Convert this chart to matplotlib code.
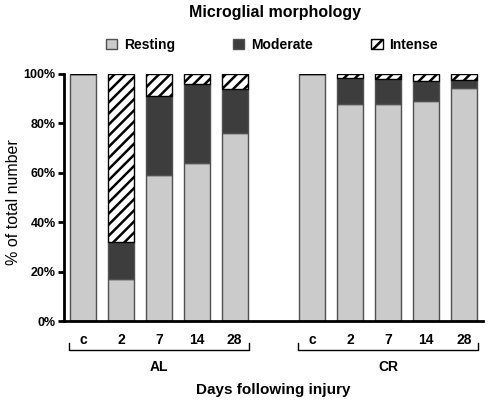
import numpy as np
import matplotlib
matplotlib.use("Agg")
import matplotlib.pyplot as plt
import matplotlib.transforms as mtransforms

plt.rcParams['font.family'] = ['Liberation Sans', 'DejaVu Sans']
plt.rcParams['hatch.linewidth'] = 1.8

# data (percent of total number)
groups = ["AL", "CR"]
days = ["c", "2", "7", "14", "28"]
resting_al = [100, 17, 59, 64, 76]
moderate_al = [0, 15, 32, 32, 18]
intense_al = [0, 68, 9, 4, 6]
resting_cr = [100, 88, 88, 89, 94.5]
moderate_cr = [0, 10.5, 10, 8, 3]
intense_cr = [0, 1.5, 2, 3, 2.5]

resting = np.array(resting_al + resting_cr)
moderate = np.array(moderate_al + moderate_cr)
intense = np.array(intense_al + intense_cr)
x = np.array([0, 1, 2, 3, 4, 6.05, 7.05, 8.05, 9.05, 10.05])
labels = days + days

fig = plt.figure(figsize=(4.89, 4.03), dpi=100)
ax = fig.add_axes([64/489, 1 - 321/403, 419/489, 247/403])

w = 0.69
ec = "#505050"
b1 = ax.bar(x, resting, w, color="#cbcbcb", edgecolor=ec, linewidth=1, label="Resting")
b2 = ax.bar(x, moderate, w, bottom=resting, color="#3d3d3d", edgecolor=ec, linewidth=1, label="Moderate")
b3 = ax.bar(x, intense, w, bottom=resting + moderate, color="white", edgecolor="black",
            hatch="///", linewidth=1, label="Intense")

ax.set_xlim(-0.5, 10.55)
ax.set_ylim(0, 100)
ax.set_yticks(np.arange(0, 101, 20))
ax.set_yticklabels(["%d%%" % v for v in range(0, 101, 20)], fontsize=9, fontweight="bold")
ax.set_xticks(x)
ax.set_xticklabels(labels, fontsize=10, fontweight="bold")
ax.tick_params(axis="x", length=0, pad=9)
ax.tick_params(axis="y", length=4, width=2, pad=2)
for s in ["top", "right"]:
    ax.spines[s].set_visible(False)
for s in ["left", "bottom"]:
    ax.spines[s].set_linewidth(2)

ax.set_ylabel("% of total number", fontsize=11.5)
ax.yaxis.set_label_coords(-0.103, 0.48)

# group brackets under the day labels
trans = mtransforms.blended_transform_factory(ax.transData, ax.transAxes)
for g, (x0, x1) in zip(groups, [(x[0] - 0.37, x[4] + 0.37), (x[5] - 0.37, x[9] + 0.37)]):
    ax.plot([x0, x0, x1, x1], [-0.090, -0.117, -0.117, -0.090], color="black",
            linewidth=1, transform=trans, clip_on=False)
    ax.text((x0 + x1) / 2, -0.185, g, transform=trans, ha="center", va="center",
            fontsize=10, fontweight="bold")

ax.text(0.5, -0.28, "Days following injury", transform=ax.transAxes, ha="center",
        va="center", fontsize=11, fontweight="bold")

fig.text(275/489, 1 - 13/403, "Microglial morphology", ha="center", va="center",
         fontsize=11.5, fontweight="bold")

fig.legend(handles=[b1, b2, b3], loc="center", bbox_to_anchor=(272/489, 1 - 45/403),
           ncol=3, frameon=False, prop={"weight": "bold", "size": 10},
           handlelength=0.8, handleheight=0.8, handletextpad=0.5, columnspacing=4.2)

fig.savefig("out.png", dpi=100)
